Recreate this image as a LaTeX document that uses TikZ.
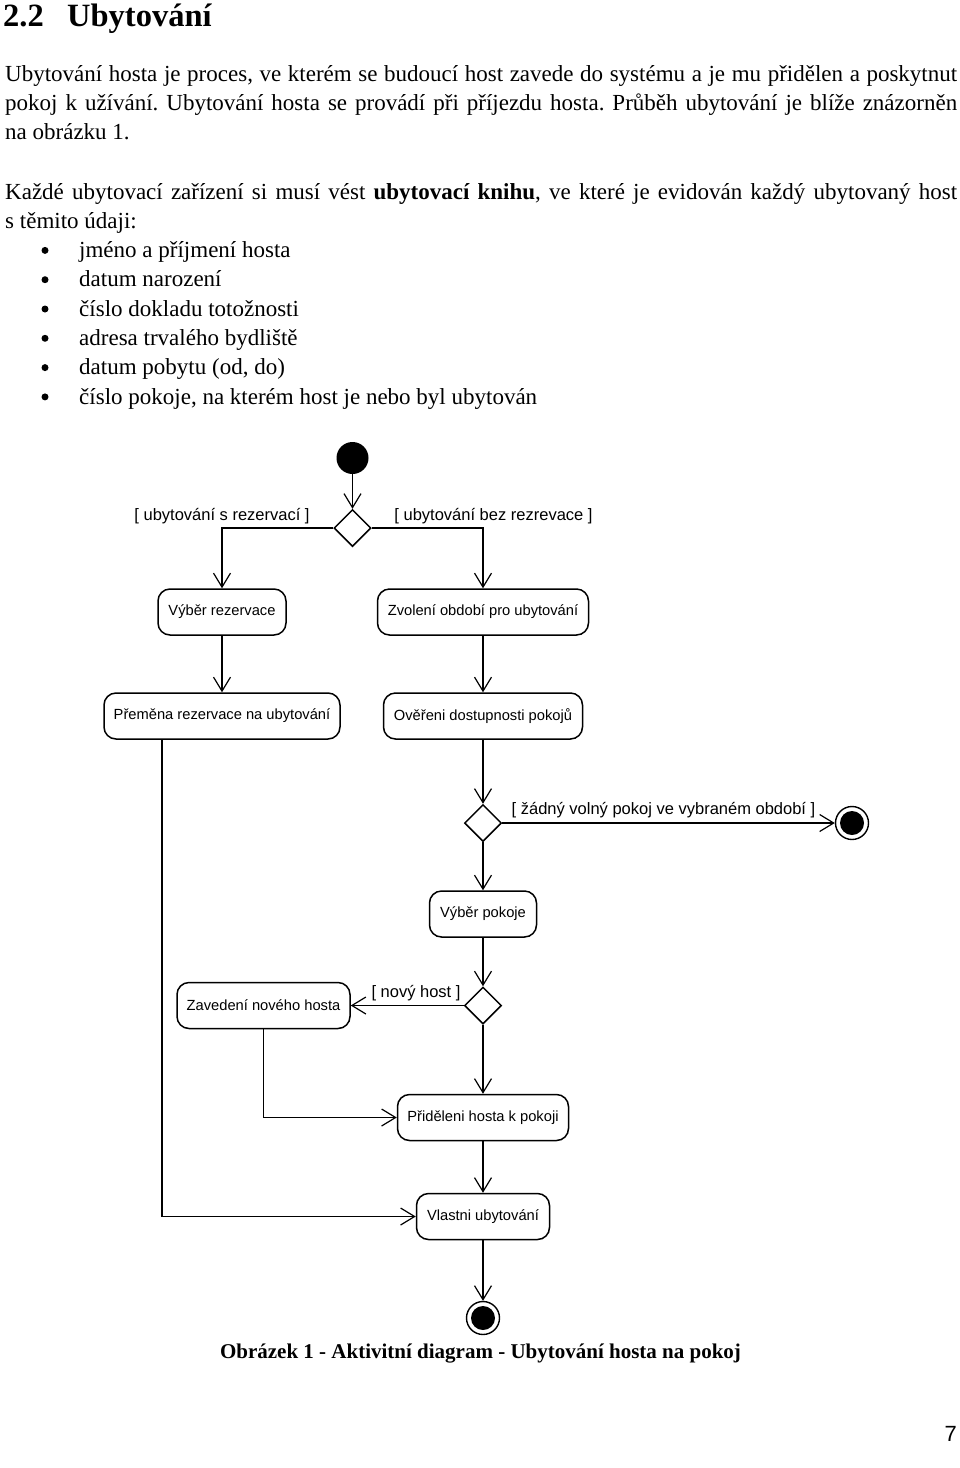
\documentclass[tikz,border=0pt]{standalone}
\usepackage{fontspec}
\setmainfont{Liberation Serif}
\newfontfamily\arialfont{Liberation Sans}
\usetikzlibrary{arrows.meta,shapes.geometric}
\frenchspacing

\tikzset{
 act/.style={draw, line width=1.5pt, rounded corners=12pt, minimum height=46pt, inner sep=0pt, font=\arialfont\fontsize{14.7}{16}\selectfont},
 dec/.style={draw, diamond, line width=1.5pt, minimum width=37pt, minimum height=37pt, inner sep=0pt},
 startnode/.style={circle, fill=black, minimum size=32pt, inner sep=0pt},
 endnode/.style={circle, draw, line width=1.4pt, minimum size=33pt, inner sep=0pt, path picture={\fill (path picture bounding box.center) circle (12pt);}},
 flow/.style={line width=1.2pt, -{Straight Barb[length=14pt,width=17pt,line width=1.2pt]}},
 guard/.style={font=\arialfont\fontsize{16.5}{18}\selectfont, inner sep=0pt},
 body/.style={anchor=base west, inner sep=0pt, font=\frenchspacing\fontsize{23}{29.5}\selectfont},
 bul/.style={circle, fill=black, minimum size=7pt, inner sep=0pt},
 headtxt/.style={anchor=base west, inner sep=0pt, font=\bfseries\fontsize{32.5}{36}\selectfont},
}

\begin{document}
\begin{tikzpicture}[x=1pt,y=-1pt]
\useasboundingbox (0,0) rectangle (960,1468);

% heading
\node[headtxt] (hnum) at (3,26) {2.2};
\node[headtxt] (htitle) at (67,26) {Ubytování};

% paragraph 1
\node[body] (p1a) at (5,81) {\makebox[952pt][s]{Ubytování hosta je proces, ve kterém se budoucí host zavede do systému a je mu přidělen a poskytnut}};
\node[body] (p1b) at (5,110.3) {\makebox[952pt][s]{pokoj k užívání. Ubytování hosta se provádí při příjezdu hosta. Průběh ubytování je blíže znázorněn}};
\node[body] (p1c) at (5,139.6) {na obrázku 1.};

% paragraph 2
\node[body] (p2a) at (5,199) {\makebox[952pt][s]{Každé ubytovací zařízení si musí vést \textbf{ubytovací knihu}, ve které je evidován každý ubytovaný host}};
\node[body] (p2b) at (5,228.3) {s těmito údaji:};

\node[body] (i1) at (79,257.6) {jméno a příjmení hosta};
\node[body] (i2) at (79,286.9) {datum narození};
\node[body] (i3) at (79,316.2) {číslo dokladu totožnosti};
\node[body] (i4) at (79,345.5) {adresa trvalého bydliště};
\node[body] (i5) at (79,374.8) {datum pobytu (od, do)};
\node[body] (i6) at (79,404.1) {číslo pokoje, na kterém host je nebo byl ubytován};
\node[bul] (k1) at (45,250.4) {};
\node[bul] (k2) at (45,279.7) {};
\node[bul] (k3) at (45,309) {};
\node[bul] (k4) at (45,338.3) {};
\node[bul] (k5) at (45,367.6) {};
\node[bul] (k6) at (45,396.9) {};

% diagram nodes
\node[startnode] (s) at (352.5,458) {};
\node[dec] (d1) at (352.5,528) {};
\node[act, minimum width=128pt] (b1) at (222,612) {Výběr rezervace};
\node[act, minimum width=211pt] (b2) at (483,612) {Zvolení období pro ubytování};
\node[act, minimum width=236pt] (b3) at (222,716) {Přeměna rezervace na ubytování};
\node[act, minimum width=199pt] (b4) at (483,716) {Ověřeni dostupnosti pokojů};
\node[dec] (d2) at (483,823) {};
\node[endnode] (f1) at (852,823) {};
\node[act, minimum width=107pt] (b5) at (483,914) {Výběr pokoje};
\node[dec] (d3) at (483,1005.5) {};
\node[act, minimum width=173pt] (b6) at (263.5,1005.5) {Zavedení nového hosta};
\node[act, minimum width=171pt] (b7) at (483,1117.5) {Přiděleni hosta k pokoji};
\node[act, minimum width=133pt] (b8) at (483,1216.5) {Vlastni ubytování};
\node[endnode] (f2) at (483,1318) {};

% guards
\node[guard] (g1) at (222,516) {[ ubytování s rezervací ]};
\node[guard] (g2) at (493.5,516) {[ ubytování bez rezrevace ]};
\node[guard] (g3) at (663.5,810) {[ žádný volný pokoj ve vybraném období ]};
\node[guard] (g4) at (416,993) {[ nový host ]};

% connectors
\draw[flow] (s) -- (d1);
\draw[flow] (d1.west) -| (b1.north);
\draw[flow] (d1.east) -| (b2.north);
\draw[flow] (b1) -- (b3);
\draw[flow] (b2) -- (b4);
\draw[flow] (b4) -- (d2);
\draw[flow] (d2.east) -- (f1);
\draw[flow] (d2) -- (b5);
\draw[flow] (b5) -- (d3);
\draw[flow] (d3.west) -- (b6.east);
\draw[flow] (d3) -- (b7);
\draw[flow] (b6.south) |- (b7.west);
\draw[flow] (b7) -- (b8);
\draw[flow] ([xshift=-60pt]b3.south) |- (b8.west);
\draw[flow] (b8) -- (f2);

% caption and page number
\node[anchor=base, inner sep=0pt, font=\bfseries\fontsize{21}{24}\selectfont] (cap) at (480.5,1358) {Obrázek 1 - Aktivitní diagram - Ubytování hosta na pokoj};
\node[anchor=base east, inner sep=0pt, font=\arialfont\fontsize{22}{24}\selectfont] (pg) at (957,1441) {7};
\end{tikzpicture}
\end{document}
